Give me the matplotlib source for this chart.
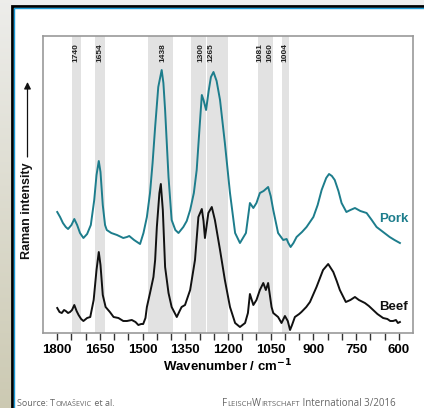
import matplotlib
matplotlib.use("Agg")
import matplotlib.pyplot as plt
import numpy as np
from matplotlib.patches import Rectangle

# ---------------- data ----------------
pork_wn = [1800, 1790, 1780, 1770, 1762, 1750, 1740, 1730, 1720, 1708, 1695, 1682, 1670, 1662, 1654,
           1648, 1640, 1632, 1626, 1610, 1590, 1568, 1555, 1547, 1530, 1509, 1497, 1485, 1474, 1465,
           1456, 1445, 1433, 1427, 1421, 1409, 1398, 1385, 1374, 1357, 1345, 1333, 1320, 1310, 1300,
           1292, 1286, 1277, 1268, 1260, 1251, 1240, 1228, 1211, 1193, 1175, 1158, 1137, 1123, 1111,
           1100, 1088, 1075, 1059, 1050, 1041, 1024, 1006, 994, 988, 980, 970, 959, 940, 924,
           900, 885, 871, 855, 845, 835, 825, 812, 801, 784, 770, 754, 735, 713, 695,
           678, 655, 632, 615, 596]
pork_int = [121, 116, 110, 106, 104, 108, 114, 108, 100, 95, 99, 108, 133, 158, 172,
            161, 128, 108, 103, 100, 98, 95, 96, 97, 93, 89, 100, 116, 140, 170,
            206, 246, 263, 250, 223, 156, 113, 103, 100, 106, 112, 123, 140, 163, 205,
            238, 233, 223, 242, 256, 261, 252, 233, 190, 140, 100, 90, 100, 130, 125,
            130, 140, 142, 146, 137, 123, 100, 93, 94, 90, 86, 90, 96, 101, 106,
            116, 128, 143, 155, 159, 157, 153, 142, 130, 121, 123, 125, 122, 120, 113,
            106, 101, 96, 93, 90]

beef_wn = [1800, 1792, 1784, 1776, 1770, 1762, 1755, 1748, 1740, 1732, 1725, 1716, 1708, 1695, 1684,
           1672, 1662, 1654, 1648, 1640, 1630, 1615, 1602, 1585, 1568, 1555, 1538, 1525, 1515, 1505,
           1498, 1490, 1485, 1474, 1462, 1456, 1450, 1441, 1436, 1429, 1421, 1409, 1398, 1380, 1370,
           1363, 1351, 1333, 1316, 1304, 1292, 1286, 1281, 1269, 1257, 1246, 1228, 1211, 1193, 1175,
           1158, 1140, 1130, 1123, 1111, 1100, 1088, 1076, 1067, 1059, 1047, 1041, 1024, 1012, 1000,
           990, 982, 975, 965, 950, 942, 925, 912, 889, 866, 848, 830, 818, 807, 786,
           770, 754, 740, 719, 705, 690, 675, 655, 640, 630, 620, 610, 603, 596]
beef_int = [25, 21, 20, 23, 22, 20, 21, 23, 28, 22, 18, 14, 12, 15, 16,
            33, 63, 81, 68, 38, 26, 21, 16, 15, 12, 12, 13, 11, 8, 9,
            9, 15, 26, 40, 56, 73, 106, 140, 149, 123, 66, 40, 26, 16, 22,
            26, 28, 43, 73, 116, 124, 112, 95, 120, 126, 113, 83, 53, 26, 10,
            6, 10, 20, 39, 28, 33, 43, 50, 43, 50, 26, 20, 16, 10, 17,
            12, 3, 8, 16, 19, 21, 26, 31, 46, 63, 69, 61, 52, 43, 31,
            33, 36, 33, 30, 27, 23, 19, 15, 14, 12, 12, 13, 10, 11]

band_ranges = [(1747, 1717), (1669, 1631), (1480, 1392), (1329, 1277), (1273, 1201),
               (1096, 1041), (1010, 984)]
band_labels = ["1740", "1654", "1438", "1300", "1265", "1081", "1060", "1004"]
band_label_pos = [1733, 1651, 1428, 1295, 1260, 1087, 1052, 1000]

xticks = [1800, 1650, 1500, 1350, 1200, 1050, 900, 750, 600]

# ---------------- figure ----------------
W, H = 424, 408
fig = plt.figure(figsize=(W / 100, H / 100), dpi=100, facecolor="#eeeeee")

def fx(x):
    return x / W

def fy(y):
    return 1 - y / H

# left background gradient strip
bg = fig.add_axes([0, 0, fx(12), 1], zorder=-5)
bg.axis("off")
grad = np.linspace(0, 1, 200)[:, None]
c_top = np.array([0.93, 0.93, 0.92])
c_bot = np.array([0.80, 0.79, 0.70])
img = c_top[None, None, :] * (1 - grad[:, :, None]) + c_bot[None, None, :] * grad[:, :, None]
bg.imshow(img, aspect="auto", extent=[0, 1, 0, 1])

# white panel with black + blue border
fig.patches.append(Rectangle((fx(12), -0.1), 1, fy(6) + 0.1, transform=fig.transFigure,
                             facecolor="white", edgecolor="black", linewidth=2.0, zorder=-3))
fig.patches.append(Rectangle((fx(14), -0.1), 1, fy(8) + 0.1, transform=fig.transFigure,
                             facecolor="none", edgecolor="#1a9ad6", linewidth=1.0, zorder=-2))

ax = fig.add_axes([fx(43), fy(333), fx(413) - fx(43), fy(36) - fy(333)])
ax.set_facecolor("white")
ax.set_xlim(1850, 550)
ax.set_ylim(0, 297)

for (a, b) in band_ranges:
    ax.axvspan(a, b, color="#e2e2e2", lw=0, zorder=0)

for lab, pos in zip(band_labels, band_label_pos):
    ax.text(pos, 290, lab, rotation=90, ha="center", va="top", fontsize=6,
            fontweight="bold", family="Liberation Sans", color="#222222", zorder=3)

ax.plot(pork_wn, pork_int, color="#1d7d8c", lw=1.4, zorder=2)
ax.plot(beef_wn, beef_int, color="#111111", lw=1.4, zorder=2)

ax.text(567, 114, "Pork", color="#1d7d8c", fontsize=9.5, fontweight="bold",
        family="Liberation Sans", ha="right", va="center")
ax.text(567, 26, "Beef", color="#111111", fontsize=9.5, fontweight="bold",
        family="Liberation Sans", ha="right", va="center")

for s in ax.spines.values():
    s.set_color("#999999")
    s.set_linewidth(1.2)

ax.set_xticks(np.arange(600, 1801, 50), minor=True)
ax.set_xticks(xticks)
ax.set_xticklabels([str(t) for t in xticks], fontsize=9.5, fontweight="bold",
                   family="Liberation Sans")
ax.tick_params(axis="x", which="both", direction="out", length=5, width=1,
               color="#333333", pad=3)
ax.set_yticks([])

ax.set_xlabel("Wavenumber / cm$^{\\mathbf{-1}}$", fontsize=9.5, fontweight="bold",
              family="Liberation Sans", labelpad=1)

# y label with arrow
fig.text(fx(27), fy(211), "Raman intensity", rotation=90, ha="center", va="center",
         fontsize=9, fontweight="bold", family="Liberation Sans", color="#111111")
ax.annotate("", xy=(fx(27.5), fy(82)), xytext=(fx(27.5), fy(157)),
            xycoords="figure fraction", textcoords="figure fraction",
            arrowprops=dict(arrowstyle="-|>", color="#111111", lw=0.9,
                            mutation_scale=10, shrinkA=0, shrinkB=0))

# footer in small caps style
renderer = fig.canvas.get_renderer()

def runs(x0, y0, parts, color="#666666"):
    x = fx(x0)
    for txt, size in parts:
        t = fig.text(x, fy(y0), txt, fontsize=size, color=color, family="Open Sans",
                     ha="left", va="baseline")
        bb = t.get_window_extent(renderer=renderer)
        x += bb.width / W

runs(17, 406, [("Source: ", 6.5), ("T", 6.5), ("OMAŠEVIC", 5.2), (" et al.", 6.5)])
runs(222, 406, [("F", 7), ("LEISCH", 5.5), ("W", 7), ("IRTSCHAFT", 5.5),
                (" International 3/2016", 7)])

fig.savefig("out.png", dpi=100, facecolor=fig.get_facecolor())
